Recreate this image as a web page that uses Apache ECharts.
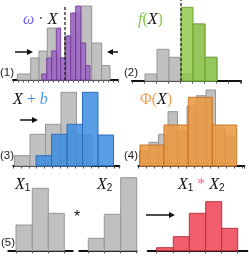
<!DOCTYPE html>
<html><head><meta charset="utf-8">
<script src="https://cdn.jsdelivr.net/npm/echarts@6/dist/echarts.min.js"></script>
<style>html,body{margin:0;padding:0;background:#fff}#c{width:249px;height:270px}</style>
</head><body><div id="c"></div>
<script>
// ---- Panel (1): X (grey) and omega*X (purple) ----
const p1GreyEdges = [4.3, 17.7, 26, 34.3, 43, 51.5, 60, 68.7, 78.7, 88.7, 97];
const p1GreyHeights = [6, 22, 29, 52, 22, 44, 67, 74, 37, 14.5];
const p1PurpleEdges = [28.7, 33.7, 38.7, 43.7, 47.7, 52.7, 57.7, 62.7, 67.7, 72.7, 77];
const p1PurpleHeights = [6, 22, 29, 52, 22, 44, 67, 74, 37, 14.5];
const p1Dashed = [[52, 0], [52, 73]];
// ---- Panel (2): X (grey) and f(X) (green) ----
const p2GreyEdges = [13, 25, 37, 49, 61, 73, 85];
const p2GreyHeights = [7, 31.7, 23.7, 7, 57, 23.7];
const p2GreenEdges = [49, 61, 73, 85];
const p2GreenHeights = [73.7, 57, 23.7];
const p2Dashed = [[49, 0], [49, 81]];
// ---- Panel (3): X (grey) and X + b (blue) ----
const p3GreyEdges = [1.2, 16.7, 32.2, 47.7, 63.2, 78.7];
const p3GreyHeights = [10.3, 31.7, 41.7, 73.7, 31];
const p3BlueEdges = [22.7, 38.2, 53.7, 69.2, 84.7, 100.2];
const p3BlueHeights = [10.3, 31.7, 41.7, 73.7, 31];
// ---- Panel (4): X (grey) and Phi(X) (orange) ----
const p4GreyEdges = [1.2, 10.7, 20.2, 29.7, 39.2, 48.7, 58.2, 67.7, 77.2, 86.7, 96.2];
const p4GreyHeights = [15, 23.7, 31.7, 54.3, 35, 60, 70.3, 76, 38, 30];
const p4OrangeEdges = [1.7, 25.7, 50, 74, 98.4];
const p4OrangeHeights = [21, 41, 68.7, 41];
// ---- Panel (5): X1, X2 and X1 * X2 ----
const p5aEdges = [7.7, 24, 40, 56];
const p5aHeights = [25.7, 62.4, 37.4];
const p5bEdges = [9, 25, 41.4, 57.4];
const p5bHeights = [12.4, 36.4, 73];
const p5cEdges = [9, 25.6, 41.6, 58, 74, 90];
const p5cHeights = [3, 14, 37.4, 49, 22.4];

const GREY = {fill: 'rgba(192,192,192,1)', stroke: 'rgba(150,150,150,1)'};
const PURPLE = {fill: 'rgba(155,100,195,0.85)', stroke: 'rgba(115,60,155,0.9)'};
const GREEN = {fill: 'rgba(140,200,70,0.82)', stroke: 'rgba(110,165,45,0.95)'};
const BLUE = {fill: 'rgba(60,140,225,0.85)', stroke: 'rgba(40,105,185,0.95)'};
const ORANGE = {fill: 'rgba(235,150,60,0.85)', stroke: 'rgba(195,115,35,0.95)'};
const RED = {fill: 'rgba(240,85,100,0.95)', stroke: 'rgba(185,50,65,1)'};

const grids = [
  {left: 13, top: 0, width: 105, height: 80},
  {left: 132, top: 0, width: 109, height: 81},
  {left: 13.3, top: 86, width: 106, height: 80},
  {left: 138.3, top: 86, width: 106, height: 80},
  {left: 8.3, top: 175, width: 64.4, height: 75.7},
  {left: 79.3, top: 175, width: 57.4, height: 75.7},
  {left: 147.7, top: 175, width: 99.6, height: 75.7}
];
const tickIntervals = [5, 12, 7.75, 8, null, null, null];
const tickCustom = [null, null, null, null, p5aEdges, p5bEdges, p5cEdges];

function xAxisFor(i) {
  const ax = {
    type: 'value', gridIndex: i, min: 0, max: grids[i].width,
    axisLine: {show: true, onZero: true, lineStyle: {color: '#111', width: 2}},
    axisTick: {show: true, inside: false, length: 2.5, lineStyle: {color: '#444', width: 1}},
    axisLabel: {show: false}, splitLine: {show: false}
  };
  if (tickIntervals[i]) ax.interval = tickIntervals[i];
  if (tickCustom[i]) ax.axisTick.customValues = tickCustom[i];
  return ax;
}
function yAxisFor(i) {
  return {type: 'value', gridIndex: i, min: 0, max: grids[i].height, show: false};
}
function hist(i, edges, heights, col, z) {
  const data = heights.map((h, k) => [edges[k], edges[k + 1], h]);
  return {
    type: 'custom', xAxisIndex: i, yAxisIndex: i, z: z, data: data,
    encode: {x: [0, 1], y: 2}, silent: true,
    renderItem: function (params, api) {
      const a = api.coord([api.value(0), api.value(2)]);
      const b = api.coord([api.value(1), 0]);
      return {type: 'rect', shape: {x: a[0], y: a[1], width: b[0] - a[0], height: b[1] - a[1]},
        style: {fill: col.fill, stroke: col.stroke, lineWidth: 1}};
    }
  };
}
function dashed(i, pts) {
  return {type: 'line', xAxisIndex: i, yAxisIndex: i, data: pts, symbol: 'none', z: 10, silent: true,
    lineStyle: {color: '#222', width: 1.3, type: [3, 2]}};
}
function arrow(x1, x2, y) {
  const dir = x2 > x1 ? 1 : -1;
  const hx = x2 - dir * 6;
  return {type: 'group', children: [
    {type: 'line', shape: {x1: x1, y1: y, x2: hx, y2: y}, style: {stroke: '#111', lineWidth: 1.5}},
    {type: 'polygon', shape: {points: [[x2, y], [hx, y - 3], [hx, y + 3]]}, style: {fill: '#111'}}
  ]};
}
const MATH = 'italic 16px "Liberation Serif"';
const UP = '16px "Liberation Serif"';
const rich = {
  k: {fill: '#111', font: MATH},
  s: {fill: '#111', font: '10px "Liberation Sans"', verticalAlign: 'bottom', lineHeight: 12},
  pu: {fill: 'rgb(115,100,230)', font: MATH},
  g: {fill: 'rgb(135,200,70)', font: MATH},
  gu: {fill: 'rgb(135,200,70)', font: UP},
  b: {fill: 'rgb(70,150,230)', font: MATH},
  bu: {fill: 'rgb(70,150,230)', font: UP},
  o: {fill: 'rgb(240,160,80)', font: UP},
  r: {fill: 'rgb(240,110,130)', font: UP},
  dot: {fill: '#555', font: UP}
};
function mtext(x, y, text) {
  return {type: 'text', x: x, y: y, style: {text: text, rich: rich, font: MATH, verticalAlign: 'middle', fill: '#111'}};
}
function plabel(x, y, t) {
  return {type: 'text', x: x, y: y, style: {text: t, font: '11.5px "Liberation Sans"', fill: '#222', verticalAlign: 'middle'}};
}

const option = {
  animation: false,
  grid: grids,
  xAxis: grids.map((g, i) => xAxisFor(i)),
  yAxis: grids.map((g, i) => yAxisFor(i)),
  series: [
    hist(0, p1GreyEdges, p1GreyHeights, GREY, 1),
    hist(0, p1PurpleEdges, p1PurpleHeights, PURPLE, 2),
    dashed(0, p1Dashed),
    hist(1, p2GreyEdges, p2GreyHeights, GREY, 1),
    hist(1, p2GreenEdges, p2GreenHeights, GREEN, 2),
    dashed(1, p2Dashed),
    hist(2, p3GreyEdges, p3GreyHeights, GREY, 1),
    hist(2, p3BlueEdges, p3BlueHeights, BLUE, 2),
    hist(3, p4GreyEdges, p4GreyHeights, GREY, 1),
    hist(3, p4OrangeEdges, p4OrangeHeights, ORANGE, 2),
    hist(4, p5aEdges, p5aHeights, GREY, 1),
    hist(5, p5bEdges, p5bHeights, GREY, 1),
    hist(6, p5cEdges, p5cHeights, RED, 2)
  ],
  graphic: [
    mtext(23, 20, '{pu|ω} {dot|·} {k|X}'),
    mtext(138, 20, '{g|f}{gu|(}{k|X}{gu|)}'),
    mtext(13, 100, '{k|X} {bu|+} {b|b}'),
    mtext(140, 100, '{o|Φ(}{k|X}{o|)}'),
    mtext(15, 185, '{k|X}{s|1}'),
    mtext(97, 185, '{k|X}{s|2}'),
    mtext(178, 185, '{k|X}{s|1} {r|*} {k|X}{s|2}'),
    {type: 'text', x: 74, y: 218, style: {text: '*', font: '16px "Liberation Sans"', fill: '#111', verticalAlign: 'middle'}},
    arrow(15, 33, 52), arrow(118, 107, 52), arrow(20, 38, 120), arrow(146, 175, 215),
    plabel(0, 73, '(1)'), plabel(124, 73, '(2)'), plabel(0, 156, '(3)'), plabel(124, 156, '(4)'), plabel(1, 242.5, '(5)')
  ]
};
const chart = echarts.init(document.getElementById('c'), null, {renderer: 'canvas'});
chart.setOption(option);
</script></body></html>
